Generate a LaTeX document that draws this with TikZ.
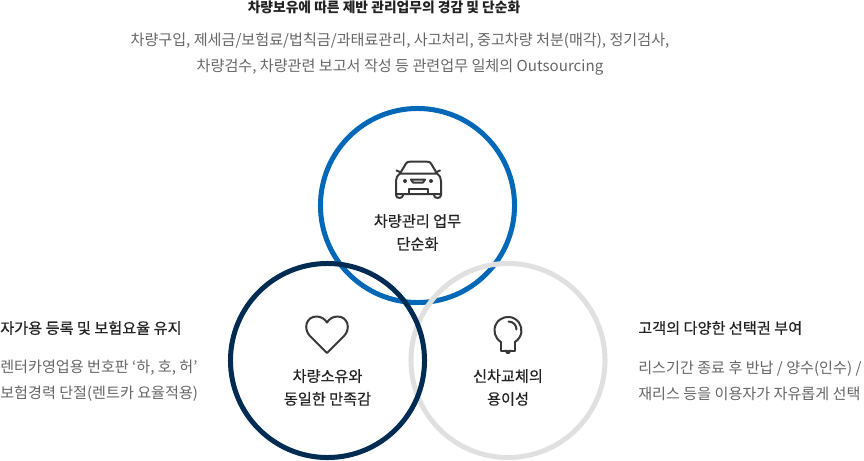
\documentclass[tikz,border=0pt]{standalone}
\usepackage{fontspec}
\usepackage{tikz}
\newfontfamily\krfont{Noto Sans CJK KR}
\newfontfamily\krmedium[FakeBold=0.5]{Noto Sans CJK KR}
\definecolor{mgmtblue}{HTML}{0068B7}
\definecolor{ownnavy}{HTML}{002B52}
\definecolor{newgray}{HTML}{E0E0E0}
\definecolor{headtext}{HTML}{222222}
\definecolor{desctext}{HTML}{666666}
\begin{document}
\begin{tikzpicture}
		[
			x=0.025cm, y=-0.025cm,
			ring/.style = {circle, draw=#1, line width=0.125cm, minimum size=4.85cm, inner sep=0pt, fill=none},
			label/.style = {align=center, inner sep=0pt, text=headtext, font=\krmedium\fontsize{10.8}{16.2}\selectfont},
			head/.style = {inner sep=0pt, text=headtext, font=\krmedium\fontsize{10.8}{16}\selectfont},
			tophd/.style = {inner sep=0pt, text=headtext, font=\krfont\bfseries\fontsize{9.8}{16}\selectfont},
			desc/.style = {inner sep=0pt, text=desctext, font=\krfont\fontsize{10.75}{18.4}\selectfont},
			icon/.style = {draw=black!78, line width=0.05cm, line join=round, line cap=round},
		]

		\useasboundingbox (0,0) rectangle (864,461);

		% rings
		\node[ring=mgmtblue] (mgmt) at ( 417.5, 205.5 ) {};
		\node[ring=newgray] (newcar) at ( 508.0, 360.5 ) {};
		\node[ring=ownnavy] (own) at ( 327.5, 360.5 ) {};

		% top texts
		\node[tophd] (tophead) at ( 384, 7.5 ) {차량보유에 따른 제반 관리업무의 경감 및 단순화};
		\node[desc, align=center] (topdesc) at ( 400, 54.5 ) {차량구입, 제세금/보험료/법칙금/과태료관리, 사고처리, 중고차량 처분(매각), 정기검사,\\차량검수, 차량관련 보고서 작성 등 관련업무 일체의 Outsourcing};

		% ring labels
		\node[label] (mgmtlabel) at ( 417.5, 232.5 ) {차량관리 업무\\단순화};
		\node[label] (ownlabel) at ( 327.5, 387.5 ) {차량소유와\\동일한 만족감};
		\node[label] (newlabel) at ( 508.0, 387.5 ) {신차교체의\\용이성};

		% side texts
		\node[head, anchor=west] (lefthead) at ( 0, 328 ) {자가용 등록 및 보험요율 유지};
		\node[desc, anchor=west, align=left] (leftdesc) at ( 0, 380.5 ) {렌터카영업용 번호판 ‘하, 호, 허’\\보험경력 단절(렌트카 요율적용)};
		\node[head, anchor=west] (righthead) at ( 638, 328 ) {고객의 다양한 선택권 부여};
		\node[desc, anchor=west, align=left] (rightdesc) at ( 638, 380.5 ) {리스기간 종료 후 반납 / 양수(인수) /\\재리스 등을 이용자가 자유롭게 선택};

		% car
		\draw[icon] (400,173.5) -- (406,163.5) .. controls (407,162) and (408,161.7) .. (410,161.7) -- (427,161.7) .. controls (429,161.7) and (430,162) .. (431,163.5) -- (437,173.5);
		\draw[icon] (396.5,170.5) -- (401,172.5);
		\draw[icon] (440,170.5) -- (435.5,172.5);
		\draw[icon] (400,173.5) .. controls (397,176) and (396,178) .. (396,181) -- (396,194) -- (441,194) -- (441,181) .. controls (441,178) and (440,176) .. (437,173.5) -- cycle;
		\draw[icon] (396,194) -- (396,195) .. controls (396,199) and (403,199) .. (403,195) -- (403,194);
		\draw[icon] (434,194) -- (434,195) .. controls (434,199) and (441,199) .. (441,195) -- (441,194);
		\draw[icon] (408.5,194) -- (408.5,189) -- (428,189) -- (428,194);
		\draw[icon] (411,179.5) -- (425,179.5) -- (423,182.5) -- (413,182.5) -- cycle;
		\fill[black!78] (405,181) circle (0.05cm) (431,181) circle (0.05cm);

		% heart
		\draw[icon] (327,353) -- (310,336) .. controls (303,329) and (306,316.5) .. (316.5,316.5) .. controls (321,316.5) and (325,319) .. (327,322.5) .. controls (329,319) and (333,316.5) .. (337.5,316.5) .. controls (348,316.5) and (351,329) .. (344,336) -- cycle;

		% bulb
		\draw[icon] (501,342) arc[start angle=121, end angle=419, radius=13.5];
		\draw[icon] (508.5,321.5) .. controls (513,321.5) and (516.5,325) .. (516.5,329.5);
		\draw[icon] (501,342) -- (501,350.5) -- (515,350.5) -- (515,342);
		\draw[icon] (505.5,350.5) -- (507,352.8) -- (509,352.8) -- (510.5,350.5);

		\end{tikzpicture}
\end{document}
